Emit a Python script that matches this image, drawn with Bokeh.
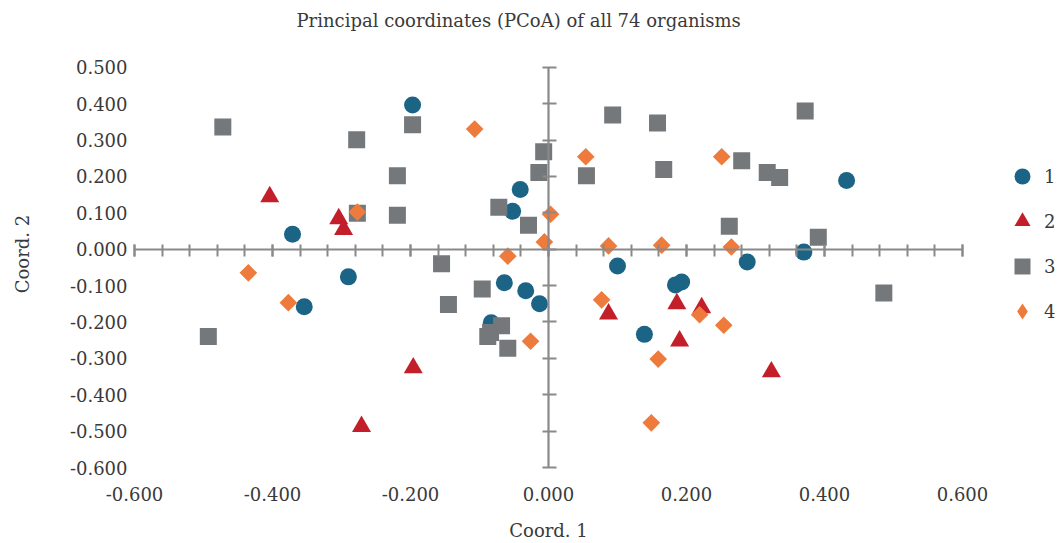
from bokeh.plotting import figure
from bokeh.models import (ColumnDataSource, Range1d, LinearAxis, FixedTicker,
                          NumeralTickFormatter, CustomJSTickFormatter,
                          Legend, LegendItem)
from bokeh.embed import file_html
from bokeh.resources import INLINE
import math

# ---------------- data ----------------
x_ticks = [-0.6, -0.4, -0.2, 0.0, 0.2, 0.4, 0.6]
y_ticks = [-0.6, -0.5, -0.4, -0.3, -0.2, -0.1, 0.0, 0.1, 0.2, 0.3, 0.4, 0.5]

g1_x = [-0.197, -0.371, -0.354, -0.290, -0.041, -0.052, -0.064, -0.033, -0.013, -0.083,
        0.100, 0.139, 0.184, 0.193, 0.288, 0.370, 0.432]
g1_y = [0.396, 0.041, -0.158, -0.076, 0.164, 0.104, -0.092, -0.114, -0.150, -0.202,
        -0.046, -0.234, -0.098, -0.090, -0.035, -0.008, 0.189]

g2_x = [-0.404, -0.304, -0.297, -0.196, -0.271, 0.087, 0.186, 0.222, 0.190, 0.323]
g2_y = [0.144, 0.084, 0.054, -0.326, -0.487, -0.178, -0.150, -0.161, -0.252, -0.337]

g3_x = [-0.472, -0.197, -0.278, -0.219, -0.219, -0.277, -0.007, -0.014, -0.072, -0.029,
        -0.155, 0.093, 0.158, 0.055, 0.167, 0.372, 0.280, 0.317, 0.335, 0.262,
        0.391, 0.486, -0.096, -0.145, -0.068, -0.084, -0.088, -0.059, -0.493]
g3_y = [0.336, 0.342, 0.301, 0.202, 0.093, 0.099, 0.268, 0.211, 0.115, 0.066,
        -0.040, 0.369, 0.347, 0.202, 0.219, 0.380, 0.243, 0.211, 0.197, 0.063,
        0.033, -0.120, -0.109, -0.152, -0.210, -0.229, -0.240, -0.272, -0.240]

g4_x = [-0.107, -0.277, 0.003, -0.006, -0.059, 0.054, 0.087, 0.164, 0.251, 0.265,
        -0.435, -0.377, -0.026, 0.077, 0.159, 0.149, 0.219, 0.254]
g4_y = [0.330, 0.102, 0.096, 0.020, -0.019, 0.254, 0.009, 0.011, 0.254, 0.006,
        -0.065, -0.147, -0.253, -0.139, -0.302, -0.477, -0.180, -0.209]

series_labels = ["1", "2", "3", "4"]

# ---------------- style / layout ----------------
FONT = "DejaVu Serif"
FS = "18px"
TXT = "#3a3a3a"
AXG = "#898989"
C1, C2, C3, C4 = "#1b6486", "#c31f2a", "#75787b", "#ee7b3b"

W, H = 1058, 543
LEFT, TOP, BOTTOM = 38, 30, 63
PX_X = 690.0     # pixels per x unit
PX_Y = 366.4     # pixels per y unit
x_half = 0.6 + (134 - LEFT) / PX_X        # frame symmetric about x = 0
y_start = -0.6 - (H - BOTTOM - 470) / PX_Y
y_end = 0.5 + (67 - TOP) / PX_Y

p = figure(width=W, height=H,
           x_range=Range1d(-x_half, x_half), y_range=Range1d(y_start, y_end),
           output_backend="svg", toolbar_location=None,
           min_border_left=LEFT, min_border_right=0,
           min_border_top=TOP, min_border_bottom=BOTTOM)
p.outline_line_color = None
p.xgrid.visible = False
p.ygrid.visible = False

xa = p.below[0]
ya = p.left[0]

# title
p.title.text = "Principal coordinates (PCoA) of all 74 organisms"
p.title.text_font = FONT
p.title.text_font_size = FS
p.title.text_font_style = "normal"
p.title.text_color = TXT
p.title.align = "left"
p.title.offset = 258
p.title.standoff = 0

fmt = NumeralTickFormatter(format="0.000")
blank = CustomJSTickFormatter(code="return ''")

# x tick labels + x axis title
xa.ticker = FixedTicker(ticks=x_ticks, minor_ticks=[])
xa.formatter = fmt
xa.axis_line_color = None
xa.major_tick_line_color = None
xa.minor_tick_line_color = None
xa.major_tick_in = 0
xa.major_tick_out = 0
xa.major_label_standoff = 9
xa.major_label_text_font = FONT
xa.major_label_text_font_size = FS
xa.major_label_text_color = TXT
xa.axis_label = "Coord. 1"
xa.axis_label_text_font = FONT
xa.axis_label_text_font_size = FS
xa.axis_label_text_font_style = "normal"
xa.axis_label_text_color = TXT
xa.axis_label_standoff = 16

# y tick labels, anchored at x = -0.6
ya.fixed_location = -0.6
ya.ticker = FixedTicker(ticks=y_ticks, minor_ticks=[])
ya.formatter = fmt
ya.axis_line_color = None
ya.major_tick_line_color = None
ya.minor_tick_line_color = None
ya.major_tick_in = 0
ya.major_tick_out = 0
ya.major_label_standoff = 7
ya.major_label_text_font = FONT
ya.major_label_text_font_size = FS
ya.major_label_text_color = TXT

# y axis title
y_title = LinearAxis(ticker=FixedTicker(ticks=[], minor_ticks=[]),
                     axis_label="Coord. 2",
                     axis_label_text_font=FONT, axis_label_text_font_size=FS,
                     axis_label_text_font_style="normal", axis_label_text_color=TXT,
                     axis_label_standoff=6, major_label_standoff=0,
                     axis_line_color=None, major_tick_line_color=None,
                     minor_tick_line_color=None, major_tick_in=0, major_tick_out=0,
                     minor_tick_in=0, minor_tick_out=0)
p.add_layout(y_title, "left")

# crossing axes at zero
x_minor = [round(-0.6 + 0.04 * i, 2) for i in range(31)]
x0 = LinearAxis(fixed_location=0, bounds=(-0.6, 0.6),
                ticker=FixedTicker(ticks=x_ticks, minor_ticks=x_minor),
                formatter=blank,
                axis_line_color=AXG, axis_line_width=2.2,
                major_tick_line_color=AXG, major_tick_line_width=2,
                minor_tick_line_color=AXG, minor_tick_line_width=2,
                major_tick_in=5, major_tick_out=7,
                minor_tick_in=5, minor_tick_out=7)
p.add_layout(x0, "below")

y0 = LinearAxis(fixed_location=0, bounds=(-0.6, 0.5),
                ticker=FixedTicker(ticks=y_ticks, minor_ticks=[]),
                formatter=blank,
                axis_line_color=AXG, axis_line_width=2.2,
                major_tick_line_color=AXG, major_tick_line_width=2,
                major_tick_in=8, major_tick_out=6)
p.add_layout(y0, "left")

# ---------------- series ----------------
s1 = ColumnDataSource(dict(x=g1_x, y=g1_y))
s2 = ColumnDataSource(dict(x=g2_x, y=g2_y))
s3 = ColumnDataSource(dict(x=g3_x, y=g3_y))
s4 = ColumnDataSource(dict(x=g4_x, y=g4_y))

r1 = p.scatter("x", "y", source=s1, marker="circle", size=17,
               fill_color=C1, line_color=None)
r2 = p.scatter("x", "y", source=s2, marker="triangle", size=19,
               fill_color=C2, line_color=None)
r3 = p.scatter("x", "y", source=s3, marker="square", size=17,
               fill_color=C3, line_color=None)
r4 = p.scatter("x", "y", source=s4, marker="square", size=12.5, angle=math.pi / 4,
               fill_color=C4, line_color=None)
# legend swatch for series 4 (legend glyphs drop the angle); never drawn in the plot
r4_key = p.scatter(x=[float("nan")], y=[float("nan")], marker="diamond", size=12,
                   fill_color=C4, line_color=None)

common = dict(border_line_color=None, background_fill_color=None,
              label_text_font=FONT, label_text_font_size=FS,
              label_text_color=TXT, padding=0, margin=0, spacing=3,
              label_standoff=2, glyph_width=40, glyph_height=42)

leg_a = Legend(items=[LegendItem(label=series_labels[0], renderers=[r1]),
                      LegendItem(label=series_labels[1], renderers=[r2]),
                      LegendItem(label=series_labels[2], renderers=[r3])],
               location=(964, 190), **common)
leg_b = Legend(items=[LegendItem(label=series_labels[3], renderers=[r4_key])],
               location=(964, 145), **common)
p.add_layout(leg_a)
p.add_layout(leg_b)

open("out.html", "w").write(file_html(p, INLINE))
